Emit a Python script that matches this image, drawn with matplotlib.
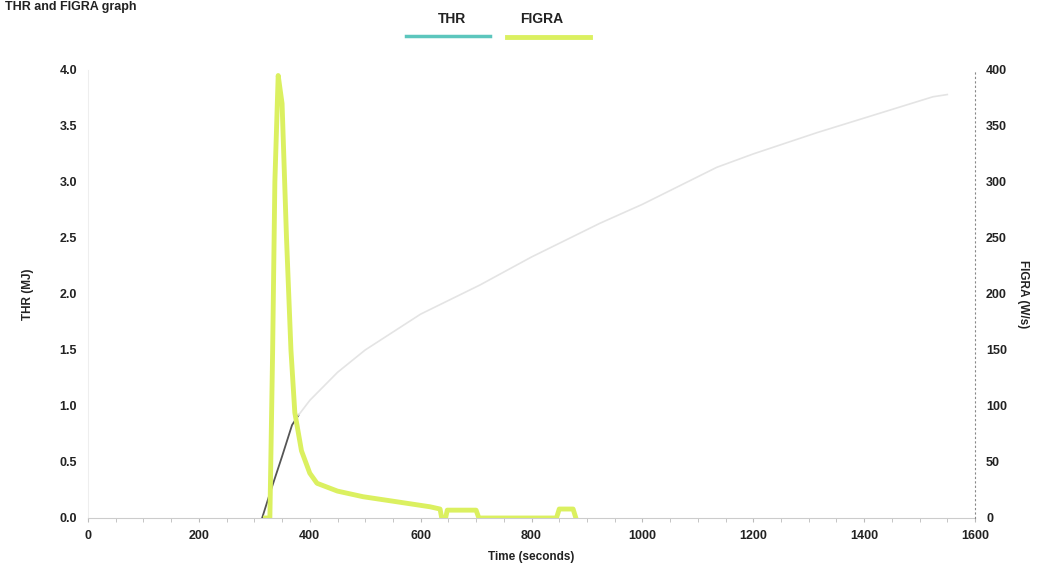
import matplotlib.pyplot as plt
from matplotlib.lines import Line2D
from matplotlib.ticker import MultipleLocator

plt.rcParams['font.family'] = ['Liberation Sans', 'DejaVu Sans']
plt.rcParams['font.weight'] = 'bold'

# THR (MJ), early dark part and later faint part
thr_time_a = [314, 330, 350, 368, 380]
thr_val_a = [0.0, 0.25, 0.55, 0.83, 0.92]
thr_time_b = [380, 400, 450, 500, 600, 707, 800, 923, 1000, 1134, 1200, 1315, 1400, 1524, 1550]
thr_val_b = [0.92, 1.05, 1.30, 1.50, 1.82, 2.08, 2.33, 2.63, 2.80, 3.13, 3.25, 3.44, 3.57, 3.76, 3.78]

# FIGRA (W/s)
figra_time = [320, 328, 333, 337, 343, 350, 358, 366, 373, 385, 400, 413, 450, 496, 550, 617, 635,
              638, 645, 648, 700, 705, 845, 850, 875, 880]
figra_val = [0, 0, 150, 300, 395, 370, 250, 150, 94, 60, 40, 31, 24, 19, 15, 10, 8,
             0, 0, 7, 7, 0, 0, 8, 8, 0]

x_ticks = [0, 200, 400, 600, 800, 1000, 1200, 1400, 1600]
thr_ticks = [0.0, 0.5, 1.0, 1.5, 2.0, 2.5, 3.0, 3.5, 4.0]
figra_ticks = [0, 50, 100, 150, 200, 250, 300, 350, 400]

fig = plt.figure(figsize=(10.42, 5.73), dpi=100)
ax1 = fig.add_axes([0.0845, 0.096, 0.8512, 0.782])
ax2 = ax1.twinx()

ax1.plot(thr_time_a, thr_val_a, color='#555555', lw=1.3, zorder=3)
ax1.plot(thr_time_b, thr_val_b, color='#e4e4e4', lw=1.2, zorder=3)
ax2.plot(figra_time, figra_val, color='#dbf060', lw=3.5, solid_joinstyle='round')

ax1.set_xlim(0, 1600)
ax1.set_ylim(0, 4.0)
ax2.set_ylim(0, 400)
ax1.set_xticks(x_ticks)
ax1.set_yticks(thr_ticks)
ax1.set_yticklabels(['%.1f' % t for t in thr_ticks])
ax2.set_yticks(figra_ticks)
ax1.xaxis.set_minor_locator(MultipleLocator(50))

for ax in (ax1, ax2):
    ax.spines['top'].set_visible(False)
    ax.tick_params(labelsize=9, colors='#222222', length=0, pad=8)
ax1.tick_params(axis='x', which='both', length=3, color='#bbbbbb', pad=6)
ax1.spines['left'].set_color('#eeeeee')
ax1.spines['bottom'].set_color('#cccccc')
ax1.spines['right'].set_visible(False)
ax2.spines['left'].set_visible(False)
ax2.spines['bottom'].set_visible(False)
ax2.spines['right'].set_color('#888888')
ax2.spines['right'].set_linestyle((0, (1, 3)))

ax1.set_xlabel('Time (seconds)', fontsize=8.5, fontweight='bold', color='#222222', labelpad=6)
ax1.set_ylabel('THR (MJ)', fontsize=8.5, fontweight='bold', color='#222222', labelpad=18)
ax2.set_ylabel('FIGRA (W/s)', fontsize=8.5, fontweight='bold', color='#222222', rotation=270, labelpad=16)

# legend: text above a line sample
fig.text(0.434, 0.967, 'THR', fontsize=10, fontweight='bold', ha='center', va='center', color='#222222')
fig.text(0.520, 0.967, 'FIGRA', fontsize=10, fontweight='bold', ha='center', va='center', color='#222222')
fig.add_artist(Line2D([0.390, 0.470], [0.937, 0.937], color='#5cc6bd', lw=2.5))
fig.add_artist(Line2D([0.487, 0.566], [0.935, 0.935], color='#dbf060', lw=3.5))

# title at top-left of the scan (cropped in the original)
fig.text(0.005, 0.999, 'THR and FIGRA graph', fontsize=9, fontweight='bold', ha='left', va='top',
         color='#222222')

fig.savefig('out.png', dpi=100)
